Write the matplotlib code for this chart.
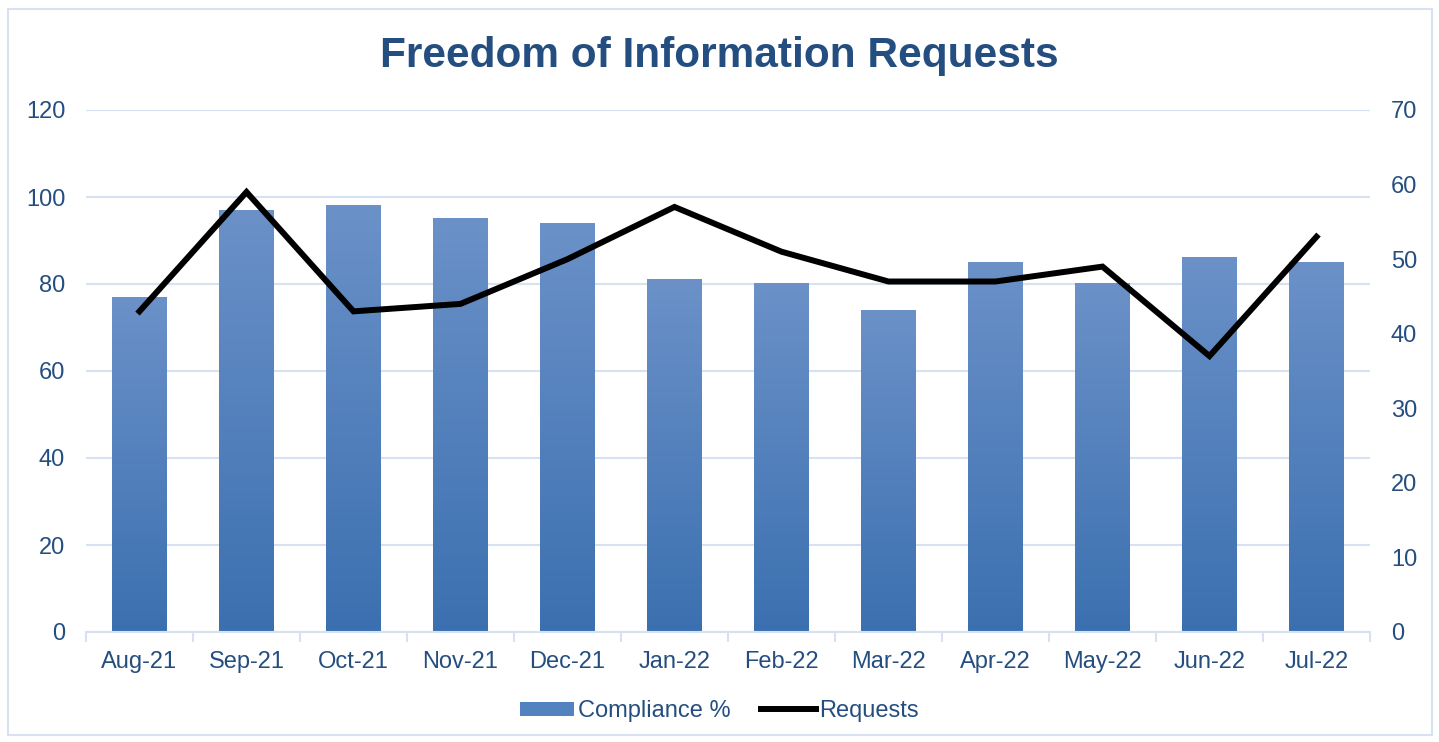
import numpy as np
import matplotlib.pyplot as plt
from matplotlib.colors import LinearSegmentedColormap
from matplotlib.patches import Rectangle
from matplotlib.lines import Line2D

plt.rcParams['font.family'] = ['Liberation Sans', 'DejaVu Sans']

# data
months = ['Aug-21', 'Sep-21', 'Oct-21', 'Nov-21', 'Dec-21', 'Jan-22',
          'Feb-22', 'Mar-22', 'Apr-22', 'May-22', 'Jun-22', 'Jul-22']
compliance = [77, 97, 98, 95, 94, 81, 80, 74, 85, 80, 86, 85]
requests = [43, 59, 43, 44, 50, 57, 51, 47, 47, 49, 37, 53]

text_col = '#254E80'
grid_col = '#D6E2F2'
bar_top = '#6B91C8'
bar_bot = '#3B70B0'

fig = plt.figure(figsize=(14.39, 7.42), dpi=100)
ax = fig.add_axes([86 / 1439, 110 / 742, (1370 - 86) / 1439, (632 - 110) / 742])
ax2 = ax.twinx()

x = np.arange(len(months))
bars = ax.bar(x, compliance, width=0.51, color='none', zorder=2)

# gradient fill for each bar (lighter at top)
cmap = LinearSegmentedColormap.from_list('barg', [bar_bot, bar_top])
grad = np.linspace(0, 1, 256).reshape(-1, 1)
for b in bars:
    bx, w, h = b.get_x(), b.get_width(), b.get_height()
    ax.imshow(grad, extent=[bx, bx + w, 0, h], origin='lower', cmap=cmap,
              aspect='auto', zorder=2)

ax2.plot(x, requests, color='black', lw=4.3, solid_joinstyle='miter', zorder=3)

ax.set_xlim(-0.5, len(months) - 0.5)
ax.set_ylim(0, 120)
ax.set_yticks(range(0, 121, 20))
ax2.set_ylim(0, 70)
ax2.set_yticks(range(0, 71, 10))

ax.set_xticks(x)
ax.set_xticklabels(months)
ax.set_xticks(np.arange(-0.5, len(months), 1), minor=True)
ax.tick_params(axis='x', which='major', length=0, pad=14, labelsize=17, labelcolor=text_col)
ax.tick_params(axis='x', which='minor', length=7, width=1.5, color=grid_col, direction='out')
ax.tick_params(axis='y', length=0, pad=15, labelsize=17, labelcolor=text_col)
ax2.tick_params(axis='y', length=0, pad=15, labelsize=17, labelcolor=text_col)

ax.yaxis.grid(True, color=grid_col, lw=1.5, zorder=0)
ax.set_axisbelow(True)
for a in (ax, ax2):
    for s in ['top', 'right', 'left']:
        a.spines[s].set_visible(False)
ax2.spines['bottom'].set_visible(False)
ax.spines['bottom'].set_color(grid_col)
ax.spines['bottom'].set_linewidth(1.5)
ax.set_zorder(ax2.get_zorder() - 1)
ax.patch.set_visible(False)

fig.text(0.5, 1 - 56 / 742, 'Freedom of Information Requests', ha='center', va='center',
         fontsize=30.5, fontweight='bold', color=text_col)

handles = [Rectangle((0, 0), 1, 1, facecolor='#5282C0', edgecolor='none'),
           Line2D([0], [0], color='black', lw=4.3)]
fig.legend(handles, ['Compliance %', 'Requests'], loc='center', bbox_to_anchor=(0.5, 1 - 711 / 742),
           ncol=2, frameon=False, fontsize=17, labelcolor=text_col, handlelength=2.3,
           handletextpad=0.15, columnspacing=1.3, handleheight=0.55)

# outer border
fig.add_artist(Rectangle((8 / 1439, 1 - 735 / 742), 1424 / 1439, 726 / 742, transform=fig.transFigure,
                         fill=False, edgecolor=grid_col, lw=1.5))

fig.savefig('out.png', dpi=100)
